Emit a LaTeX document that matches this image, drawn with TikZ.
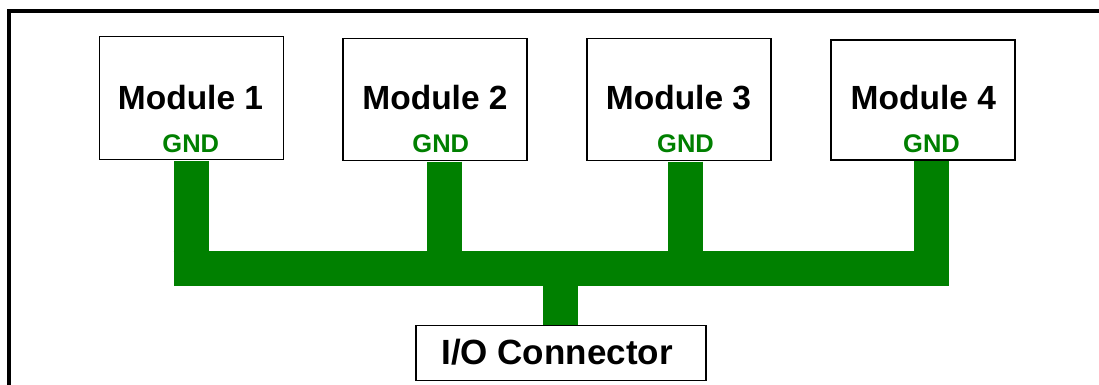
\documentclass[tikz,border=0pt]{standalone}
\usepackage{fontspec}
\setmainfont{Liberation Sans}
\definecolor{gnd}{RGB}{0,128,0}
\begin{document}
\begin{tikzpicture}[x=1pt,y=-1pt,
  modbox/.style={draw=black,line width=1.3pt,fill=white,inner sep=0pt,minimum width=184pt},
  lbl/.style={font=\bfseries\fontsize{33.5}{40}\selectfont,anchor=base,inner sep=0pt},
  iolbl/.style={font=\bfseries\fontsize{35}{40}\selectfont,anchor=base,inner sep=0pt},
  gndlbl/.style={font=\bfseries\fontsize{25.5}{28}\selectfont,text=gnd,anchor=base,inner sep=0pt},
  bus/.style={draw=gnd,line width=35pt,line cap=butt}]
\useasboundingbox (0,0) rectangle (1099,385);
\fill[white] (0,0) rectangle (1099,385);
\draw[line width=4pt,miter limit=10] (9,400) -- (9,11) -- (1115,11);

% boxes
\node[modbox,minimum height=123pt] (m1) at (191.3,98) {};
\node[modbox,minimum height=122pt] (m2) at (435,99.2) {};
\node[modbox,minimum height=122pt] (m3) at (679,99.2) {};
\node[modbox,minimum height=120pt] (m4) at (923,100) {};
\node[modbox,minimum width=290pt,minimum height=55pt] (io) at (561,353.3) {};

% bus coordinates
\coordinate (b1) at (191,268.5);
\coordinate (b2) at (444.2,268.5);
\coordinate (b3) at (685.2,268.5);
\coordinate (b4) at (931.8,268.5);
\coordinate (bl) at (173.5,268.5);
\coordinate (br) at (949.3,268.5);
\coordinate (bio) at (560.2,268.5);

% green bus
\draw[bus] (bl) -- (br);
\draw[bus,shorten <=0.65pt] (m1.south -| b1) -- (b1);
\draw[bus,shorten <=0.65pt] (m2.south -| b2) -- (b2);
\draw[bus,shorten <=0.65pt] (m3.south -| b3) -- (b3);
\draw[bus,shorten <=0.65pt] (m4.south -| b4) -- (b4);
\draw[bus,shorten >=0.65pt] (bio) -- (io.north -| bio);

% texts
\node[lbl] (t1) at (190.5,110) {Module 1};
\node[lbl] (t2) at (435,110) {Module 2};
\node[lbl] (t3) at (678.5,110) {Module 3};
\node[lbl] (t4) at (923.3,110) {Module 4};
\node[gndlbl] (g1) at (190.8,152.7) {GND};
\node[gndlbl] (g2) at (440.8,152.7) {GND};
\node[gndlbl] (g3) at (685.5,152.7) {GND};
\node[gndlbl] (g4) at (931.5,152.7) {GND};
\node[iolbl] (tio) at (557,364) {I/O Connector};
\end{tikzpicture}
\end{document}
